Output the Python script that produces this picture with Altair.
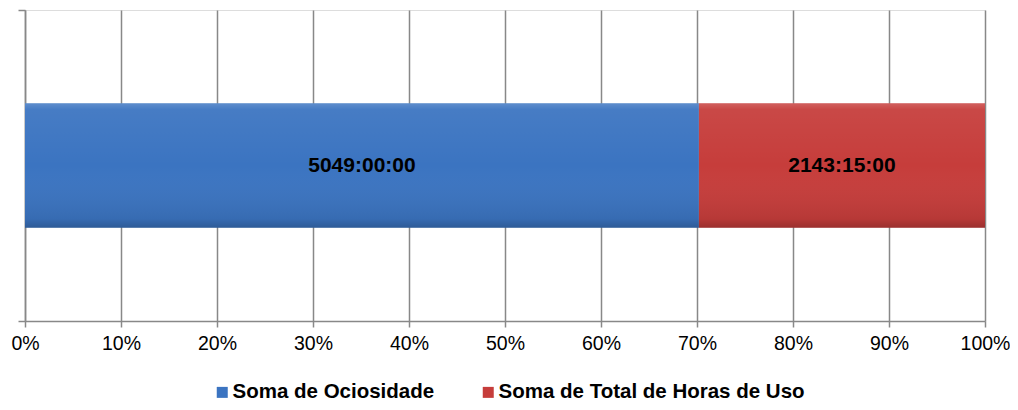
import altair as alt
import pandas as pd

series = ["Soma de Ociosidade", "Soma de Total de Horas de Uso"]
hours = [5049.0, 2143.25]
labels = ["5049:00:00", "2143:15:00"]
order = [0, 1]
colors = ["#3b74c1", "#c63d3b"]
ticks = [0, 0.1, 0.2, 0.3, 0.4, 0.5, 0.6, 0.7, 0.8, 0.9, 1.0]

df = pd.DataFrame({"series": series, "hours": hours, "label": labels,
                   "order": order, "cat": ["A", "A"]})
axis_df = pd.DataFrame({"v": [0, 1]})

FONT = "Liberation Sans"
GRID = "#888888"

base = alt.Chart(df)

xenc = alt.X("hours:Q", stack="normalize",
             scale=alt.Scale(domain=[0, 1]),
             axis=alt.Axis(values=ticks, format=".0%", title=None,
                           grid=True, gridColor=GRID, gridWidth=1.5,
                           domainColor=GRID, domainWidth=1.5,
                           tickColor=GRID, tickWidth=1.5, tickSize=6,
                           labelFont=FONT, labelFontSize=19.5, labelColor="#000000",
                           labelFlush=False, labelBound=False, labelOverlap=False,
                           labelPadding=7))
yenc = alt.Y("cat:N", axis=None,
             scale=alt.Scale(paddingInner=0, paddingOuter=0.75))

bars = base.mark_bar().encode(
    x=xenc,
    y=yenc,
    color=alt.Color("series:N", sort=series,
                    scale=alt.Scale(domain=series, range=colors),
                    legend=alt.Legend(orient="none", legendX=187, legendY=372,
                                      direction="horizontal", title=None,
                                      symbolType="square", symbolSize=121,
                                      symbolStrokeWidth=0, symbolOpacity=1,
                                      labelFont=FONT, labelFontSize=20.5,
                                      labelFontWeight="bold", labelColor="#000000",
                                      labelLimit=1000,
                                      labelOffset=0, columnPadding=43, padding=0)),
    order=alt.Order("order:Q"),
)

overlay = base.mark_bar(fill={
    "gradient": "linear", "x1": 0, "y1": 0, "x2": 0, "y2": 1,
    "stops": [
        {"offset": 0, "color": "rgba(255,255,255,0.18)"},
        {"offset": 0.05, "color": "rgba(255,255,255,0.06)"},
        {"offset": 0.5, "color": "rgba(255,255,255,0.0)"},
        {"offset": 0.93, "color": "rgba(0,0,0,0.08)"},
        {"offset": 1, "color": "rgba(0,0,0,0.22)"},
    ]}).encode(
    x=alt.X("hours:Q", stack="normalize"),
    y=yenc,
    detail="series:N",
    order=alt.Order("order:Q"),
)

text = base.transform_joinaggregate(
    total="sum(hours)"
).transform_window(
    cum="sum(hours)", sort=[alt.SortField("order")]
).transform_calculate(
    mid="(datum.cum - datum.hours/2)/datum.total"
).mark_text(font=FONT, fontSize=21, fontWeight="bold", color="#000000").encode(
    x=alt.X("mid:Q"),
    y=yenc,
    text="label:N",
)

yaxis = alt.Chart(axis_df).mark_rule(opacity=0).encode(
    y=alt.Y("v:Q", scale=alt.Scale(domain=[0, 1]),
            axis=alt.Axis(values=[0, 1], labels=False, title=None, orient="left",
                          domainColor=GRID, domainWidth=1.5, tickColor=GRID,
                          tickWidth=1.5, tickSize=7, grid=False))
)

chart = alt.layer(bars, overlay, text, yaxis).resolve_scale(
    y="independent"
).properties(
    width=960, height=311,
    autosize=alt.AutoSizeParams(type="none"),
    padding={"left": 17, "top": 2, "right": 25, "bottom": 81},
).configure_view(stroke=None).configure(background="#ffffff")

chart.save("out.html", embed_options={"renderer": "svg", "actions": False})
